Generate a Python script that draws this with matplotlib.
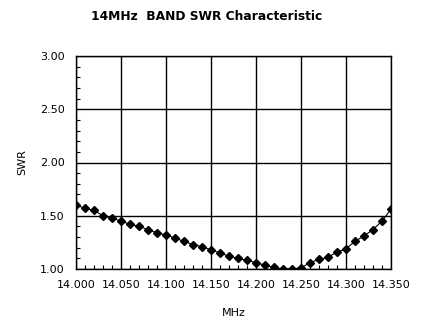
import matplotlib
matplotlib.use("Agg")
import matplotlib.pyplot as plt
import numpy as np
from matplotlib.ticker import MultipleLocator

freq = [14.000, 14.010, 14.020, 14.030, 14.040, 14.050, 14.060, 14.070, 14.080, 14.090,
        14.100, 14.110, 14.120, 14.130, 14.140, 14.150, 14.160, 14.170, 14.180, 14.190,
        14.200, 14.210, 14.220, 14.230, 14.240, 14.250, 14.260, 14.270, 14.280, 14.290,
        14.300, 14.310, 14.320, 14.330, 14.340, 14.350]
swr = [1.60, 1.57, 1.55, 1.50, 1.48, 1.45, 1.42, 1.40, 1.37, 1.34,
       1.32, 1.29, 1.26, 1.23, 1.21, 1.18, 1.15, 1.12, 1.10, 1.08,
       1.06, 1.035, 1.015, 1.00, 1.00, 1.01, 1.06, 1.09, 1.11, 1.16,
       1.19, 1.26, 1.31, 1.37, 1.45, 1.56]
xticks = [14.000, 14.050, 14.100, 14.150, 14.200, 14.250, 14.300, 14.350]
yticks = [1.00, 1.50, 2.00, 2.50, 3.00]

fig = plt.figure(figsize=(4.23, 3.36), dpi=100)
ax = fig.add_axes([76/423, 67/336, 315/423, 213/336])
ax.plot(freq, swr, color="black", lw=0.8, marker="D", markersize=4.0,
        markerfacecolor="black", markeredgecolor="black", zorder=3)
ax.set_xlim(14.000, 14.350)
ax.set_ylim(1.0, 3.0)
ax.set_xticks(xticks)
ax.set_xticklabels([f"{v:.3f}" for v in xticks])
ax.set_yticks(yticks)
ax.set_yticklabels([f"{v:.2f}" for v in yticks])
ax.xaxis.set_minor_locator(MultipleLocator(0.01))
ax.yaxis.set_minor_locator(MultipleLocator(0.1))
ax.grid(True, which="major", color="black", lw=1.0)
ax.tick_params(which="major", direction="out", length=0, labelsize=8, pad=8)
ax.tick_params(which="minor", direction="in", length=3, width=0.8)
for s in ax.spines.values():
    s.set_linewidth(1.0)
ax.set_xlabel("MHz", fontsize=8, labelpad=13)
fig.text(22/423, 1-162/336, "SWR", rotation=90, fontsize=8, ha="center", va="center")
fig.text(207/423, 1-17/336, "14MHz  BAND SWR Characteristic", fontsize=8.8,
         fontweight="bold", ha="center", va="center")
fig.savefig("out.png", dpi=100)
